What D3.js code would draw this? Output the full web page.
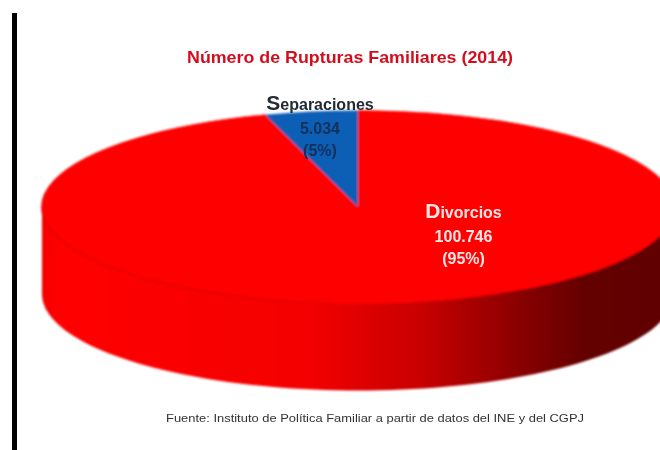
<!DOCTYPE html>
<html><head><meta charset="utf-8">
<script src="https://cdnjs.cloudflare.com/ajax/libs/d3/7.8.5/d3.min.js"></script>
<style>html,body{margin:0;padding:0;background:#fff}svg{display:block}text{font-family:"Liberation Sans",Arial,sans-serif;font-weight:bold}</style>
</head><body><script>
const title = "Número de Rupturas Familiares (2014)";
const source = "Fuente: Instituto de Política Familiar a partir de datos del INE y del CGPJ";
const categories = ["Divorcios", "Separaciones"];
const values = [100746, 5034];
const valueLabels = ["100.746", "5.034"];
const shareLabels = ["(95%)", "(5%)"];
const sliceColors = ["#ff0000", "#0a5fb5"];

(function () {
const W = 660, H = 450, cx = 358, cy = 207, rx = 316, ry = 96.5, depth = 87;
const svg = d3.select("body").append("svg").attr("width", W).attr("height", H);
const defs = svg.append("defs");
function blur(id, sd) {
  defs.append("filter").attr("id", id).attr("filterUnits", "userSpaceOnUse")
    .attr("x", 0).attr("y", 0).attr("width", W).attr("height", H)
    .append("feGaussianBlur").attr("stdDeviation", sd);
}
blur("soft", 0.8);
blur("softText", 0.7);
blur("softSmall", 0.6);
const grad = defs.append("linearGradient").attr("id", "side").attr("gradientUnits", "userSpaceOnUse")
  .attr("x1", cx - rx).attr("x2", cx + rx).attr("y1", 0).attr("y2", 0);
[[0, "#f40000"], [0.03, "#ff0000"], [0.42, "#f40000"], [0.6, "#c80000"], [0.78, "#800000"], [0.86, "#640000"], [1, "#600000"]]
  .forEach(([o, c]) => grad.append("stop").attr("offset", o).attr("stop-color", c));

svg.append("rect").attr("x", 12).attr("y", 13).attr("width", 5).attr("height", H - 13).attr("fill", "#000");

const g = svg.append("g").attr("filter", "url(#soft)");

// Side wall: lower half of the ellipse, extruded downward
const rad = a => a * Math.PI / 180;
const front = d3.range(0, 181, 2).map(rad);
const wall = d3.area()
  .x(a => cx + rx * Math.cos(a))
  .y0(cy)
  .y1(a => cy + ry * Math.sin(a) + depth);
g.append("path").attr("d", wall(front)).attr("fill", "url(#side)");

// Top face: d3 pie angles, flattened into an ellipse
const pie = d3.pie().sort(null).startAngle(0).endAngle(2 * Math.PI);
const arcs = pie(values);
const arc = d3.arc().innerRadius(0).outerRadius(rx);
const face = g.append("g").attr("transform", `translate(${cx},${cy}) scale(1,${ry / rx})`);
// Slices overlap slightly so no pale seam shows between them
face.selectAll("path").data(arcs).join("path").attr("d", arc)
  .attr("fill", (d, i) => sliceColors[i])
  .attr("stroke", (d, i) => i === 0 ? sliceColors[0] : "none")
  .attr("stroke-width", 1.5);

// Faint seam along the left front rim
const rim = d3.line().x(a => cx + rx * Math.cos(a)).y(a => cy + ry * Math.sin(a));
g.append("path").attr("d", rim(d3.range(95, 181, 2).map(rad))).attr("fill", "none")
  .attr("stroke", "#c80000").attr("stroke-opacity", 0.4).attr("stroke-width", 2);

const t = svg.append("g").attr("filter", "url(#softText)");
t.append("text").attr("x", 187).attr("y", 63).attr("font-size", 16.5)
  .attr("textLength", 326).attr("lengthAdjust", "spacingAndGlyphs").attr("fill", "#d3101f").text(title);
svg.append("text").attr("filter", "url(#softSmall)").attr("x", 166).attr("y", 422).attr("font-size", 10.5)
  .attr("textLength", 418).attr("lengthAdjust", "spacingAndGlyphs")
  .style("font-weight", "normal").attr("fill", "#333").text(source);

function label(i, x, y0, nameColor, color) {
  const name = t.append("text").attr("x", x).attr("y", y0).attr("text-anchor", "middle").attr("fill", nameColor).attr("font-size", 16);
  name.append("tspan").attr("font-size", 21).text(categories[i][0]);
  name.append("tspan").text(categories[i].slice(1));
  t.append("text").attr("x", x).attr("y", y0 + 24).attr("text-anchor", "middle").attr("fill", color).attr("font-size", 16).text(valueLabels[i]);
  t.append("text").attr("x", x).attr("y", y0 + 46).attr("text-anchor", "middle").attr("fill", color).attr("font-size", 16).text(shareLabels[i]);
}
label(0, 463.5, 218, "#ffe6e6", "#ffe6e6");
label(1, 320, 109.5, "#222a33", "#12305a");
})();
</script></body></html>
